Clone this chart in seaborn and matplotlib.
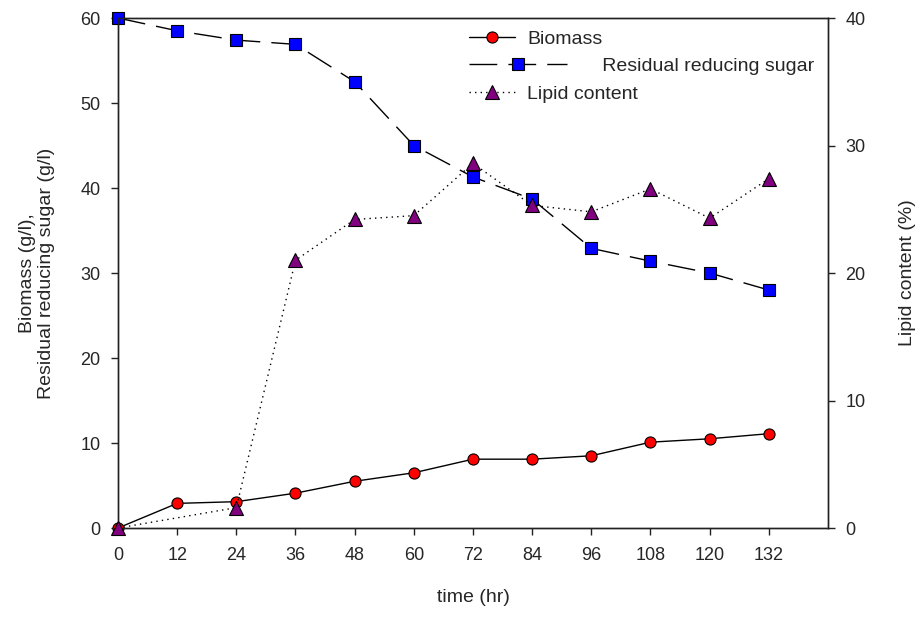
import numpy as np
import pandas as pd
import seaborn as sns
import matplotlib
matplotlib.use("Agg")
import matplotlib.pyplot as plt
from matplotlib.legend_handler import HandlerLine2D

# data
time_hr = [0, 12, 24, 36, 48, 60, 72, 84, 96, 108, 120, 132]
biomass = [0.0, 2.9, 3.1, 4.1, 5.5, 6.5, 8.1, 8.1, 8.5, 10.1, 10.5, 11.1]
sugar = [60.0, 58.5, 57.4, 56.9, 52.5, 45.0, 41.3, 38.7, 32.9, 31.4, 30.0, 28.0]
lipid = [0.0, None, 1.6, 21.0, 24.2, 24.5, 28.6, 25.3, 24.8, 26.6, 24.3, 27.4]

df = pd.DataFrame({"time": time_hr, "biomass": biomass, "sugar": sugar, "lipid": lipid})
lipid_df = df.dropna(subset=["lipid"])


class LongHandler(HandlerLine2D):
    # sigmaplot style: the dashed entry gets a longer sample line
    def create_artists(self, legend, orig_handle, xdescent, ydescent,
                       width, height, fontsize, trans):
        return super().create_artists(legend, orig_handle, xdescent, ydescent,
                                      width * 2.1, height, fontsize, trans)


sns.set_style("ticks")
plt.rcParams["font.family"] = ["Liberation Sans", "DejaVu Sans"]
plt.rcParams["font.size"] = 13

fig, ax = plt.subplots(figsize=(9.16, 6.17), dpi=100)
fig.subplots_adjust(left=0.1288, right=0.9039, top=0.9708, bottom=0.1442)
ax2 = ax.twinx()

sns.lineplot(data=df, x="time", y="biomass", ax=ax, color="black", lw=1,
             marker="o", markersize=8, markerfacecolor="red",
             markeredgecolor="black", markeredgewidth=0.8,
             label="Biomass", legend=False, clip_on=False, zorder=4)
sns.lineplot(data=df, x="time", y="sugar", ax=ax, color="black", lw=1,
             linestyle=(0, (20, 8)),
             marker="s", markersize=8.5, markerfacecolor="blue",
             markeredgecolor="black", markeredgewidth=0.8,
             label="Residual reducing sugar", legend=False, clip_on=False, zorder=3)
sns.lineplot(data=lipid_df, x="time", y="lipid", ax=ax2, color="black", lw=1,
             linestyle=(0, (1, 3)),
             marker="^", markersize=9.5, markerfacecolor="purple",
             markeredgecolor="black", markeredgewidth=0.8,
             label="Lipid content", legend=False, clip_on=False, zorder=3)

ax.set_xlim(0, 144)
ax.set_ylim(0, 60)
ax2.set_ylim(0, 40)
ax.set_xticks(time_hr)
ax.set_yticks(range(0, 61, 10))
ax2.set_yticks(range(0, 41, 10))

for a in (ax, ax2):
    for s in a.spines.values():
        s.set_visible(True)
        s.set_color("#222222")
        s.set_linewidth(1)
    a.tick_params(direction="out", length=5, width=1, color="#222222", labelsize=13, pad=7.5)
ax.tick_params(axis="x", pad=9)

ax.set_xlabel("time (hr)", fontsize=14, labelpad=18)
ax.set_ylabel("Biomass (g/l),\nResidual reducing sugar (g/l)", fontsize=14, labelpad=18)
ax2.set_ylabel("Lipid content (%)", fontsize=14, labelpad=24)

h1, l1 = ax.get_legend_handles_labels()
h2, l2 = ax2.get_legend_handles_labels()
labels = l1 + l2
labels[1] = " " * 14 + labels[1]
ax2.legend(h1 + h2, labels, loc="upper left", bbox_to_anchor=(0.494, 0.976),
           frameon=False, fontsize=14, handlelength=2.4, borderpad=0,
           borderaxespad=0, labelspacing=0.5, handletextpad=0.6,
           handler_map={h1[1]: LongHandler()})

plt.savefig("out.png", dpi=100)
